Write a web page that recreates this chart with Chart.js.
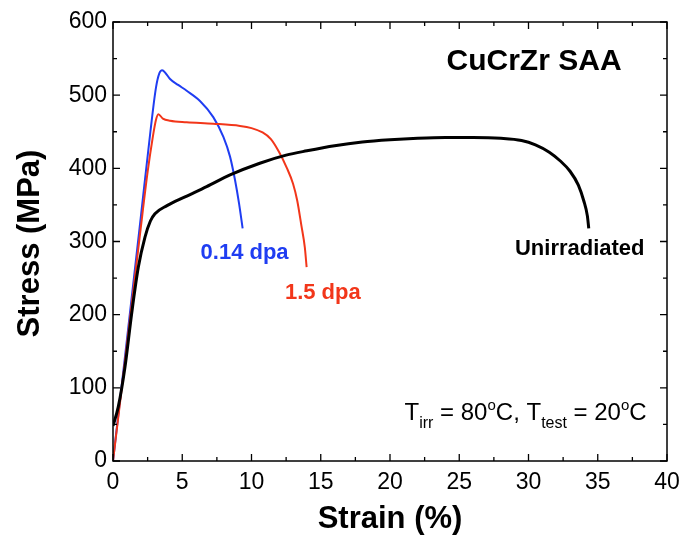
<!DOCTYPE html>
<html>
<head>
<meta charset="utf-8">
<script src="https://cdn.jsdelivr.net/npm/chart.js@4"></script>
<style>
  html, body { margin: 0; padding: 0; background: #fff; }
  #wrap { width: 684px; height: 536px; }
</style>
</head>
<body>
<div id="wrap"><canvas id="chart" width="684" height="536"></canvas></div>
<script>
// strain (%) / stress (MPa)
const strainUnirr = [0, 0.38, 0.87, 1.35, 1.83, 2.31, 2.7, 3.03, 3.9, 5.2, 6.76, 8.45, 10.6, 12.5, 14, 16, 18, 20, 22, 24, 26, 28, 29.5, 30.5, 31.5, 32.3, 33, 33.6, 34, 34.25, 34.35];
const stressUnirr = [48, 74, 129, 202, 265, 306, 328, 338, 349, 361, 375, 391, 407, 418, 424, 431, 436, 439, 441, 442, 442, 441, 438, 432, 422, 410, 396, 377, 355, 335, 318];

const strain014 = [0, 1, 2, 2.7, 3.1, 3.35, 3.55, 3.8, 4.12, 4.7, 5.32, 6.28, 7.24, 7.97, 8.45, 8.81, 9.1, 9.36];
const stress014 = [0, 165, 332, 450, 510, 530, 534, 530, 522, 514, 506, 492, 470, 443, 416, 384, 352, 318];

const strain15 = [0, 1, 2, 2.5, 2.85, 3.1, 3.27, 3.6, 4.12, 5.32, 7.24, 9.17, 10.0, 10.8, 11.4, 12.0, 12.54, 13.0, 13.3, 13.6, 13.85, 13.98];
const stress15 = [0, 158, 318, 395, 440, 466, 474, 468, 465, 463, 461, 458, 455, 449, 440, 422, 401, 379, 356, 322, 292, 265];

const xMajor = [0, 5, 10, 15, 20, 25, 30, 35, 40];
const yMajor = [0, 100, 200, 300, 400, 500, 600];

function pts(xs, ys) { return xs.map((x, i) => ({x: x, y: ys[i]})); }

const FONT = '"Liberation Sans", Arial, sans-serif';

// frame, inward ticks, tick labels, axis titles and notes
const framePlugin = {
  id: 'frame',
  afterDatasetsDraw(chart) {
    const ctx = chart.ctx, xs = chart.scales.x, ys = chart.scales.y;
    const L = xs.left, R = xs.right, T = ys.top, B = ys.bottom;
    ctx.save();
    ctx.strokeStyle = '#000';
    ctx.lineWidth = 1.5;
    ctx.strokeRect(L, T, R - L, B - T);
    ctx.lineWidth = 1.3;
    ctx.beginPath();
    for (let v = 0; v <= 40; v += 2.5) {
      const p = xs.getPixelForValue(v);
      const len = (v % 5 === 0) ? 7 : 4;
      ctx.moveTo(p, B); ctx.lineTo(p, B - len);
      ctx.moveTo(p, T); ctx.lineTo(p, T + len);
    }
    for (let v = 0; v <= 600; v += 50) {
      const p = ys.getPixelForValue(v);
      const len = (v % 100 === 0) ? 7 : 4;
      ctx.moveTo(L, p); ctx.lineTo(L + len, p);
      ctx.moveTo(R, p); ctx.lineTo(R - len, p);
    }
    ctx.stroke();

    ctx.fillStyle = '#000';
    ctx.font = '23px ' + FONT;
    ctx.textAlign = 'center'; ctx.textBaseline = 'middle';
    xMajor.forEach(v => ctx.fillText(String(v), xs.getPixelForValue(v), B + 22));
    ctx.textAlign = 'right';
    yMajor.forEach(v => ctx.fillText(String(v), L - 6, ys.getPixelForValue(v)));

    ctx.font = 'bold 31px ' + FONT;
    ctx.textAlign = 'center';
    ctx.fillText('Strain (%)', (L + R) / 2, 519);
    ctx.save();
    ctx.translate(30, (T + B) / 2 + 2);
    ctx.rotate(-Math.PI / 2);
    ctx.fillText('Stress (MPa)', 0, 0);
    ctx.restore();

    ctx.font = 'bold 30px ' + FONT;
    ctx.fillText('CuCrZr SAA', xs.getPixelForValue(30.4), ys.getPixelForValue(546));

    ctx.font = 'bold 22px ' + FONT;
    ctx.fillStyle = '#1f3df2';
    ctx.fillText('0.14 dpa', xs.getPixelForValue(9.5), ys.getPixelForValue(285));
    ctx.fillStyle = '#f2361a';
    ctx.fillText('1.5 dpa', xs.getPixelForValue(15.15), ys.getPixelForValue(230));
    ctx.fillStyle = '#000';
    ctx.fillText('Unirradiated', xs.getPixelForValue(33.7), ys.getPixelForValue(290));

    // T_irr = 80°C, T_test = 20°C
    ctx.textAlign = 'left'; ctx.textBaseline = 'alphabetic';
    let x = xs.getPixelForValue(21.05);
    const base = ys.getPixelForValue(56);
    const parts = [
      ['T', 0, 24], ['irr', 8, 16], [' = 80', 0, 24], ['o', -10, 15], ['C, T', 0, 24],
      ['test', 8, 16], [' = 20', 0, 24], ['o', -10, 15], ['C', 0, 24]
    ];
    parts.forEach(p => {
      ctx.font = p[2] + 'px ' + FONT;
      ctx.fillText(p[0], x, base + p[1]);
      x += ctx.measureText(p[0]).width;
    });
    ctx.restore();
  }
};

new Chart(document.getElementById('chart'), {
  type: 'scatter',
  data: {
    datasets: [
      { label: 'Unirradiated', data: pts(strainUnirr, stressUnirr), borderColor: '#000', borderWidth: 3 },
      { label: '1.5 dpa', data: pts(strain15, stress15), borderColor: '#f2361a', borderWidth: 2 },
      { label: '0.14 dpa', data: pts(strain014, stress014), borderColor: '#1f3df2', borderWidth: 2 }
    ].map(d => Object.assign(d, { showLine: true, pointRadius: 0, cubicInterpolationMode: 'monotone', fill: false }))
  },
  options: {
    responsive: false,
    animation: false,
    layout: { padding: { top: 22, right: 17, left: 0, bottom: 0 } },
    plugins: { legend: { display: false }, tooltip: { enabled: false } },
    scales: {
      x: {
        type: 'linear', min: 0, max: 40,
        grid: { display: false }, border: { display: false },
        ticks: { display: false },
        afterFit(s) { s.height = 75; }
      },
      y: {
        type: 'linear', min: 0, max: 600,
        grid: { display: false }, border: { display: false },
        ticks: { display: false },
        afterFit(s) { s.width = 113; }
      }
    }
  },
  plugins: [framePlugin]
});
</script>
</body>
</html>
